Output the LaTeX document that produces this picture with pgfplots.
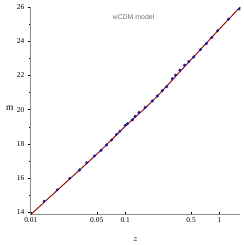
\documentclass[border=0pt]{standalone}
\usepackage{fontspec}
\setmainfont{Liberation Serif}
\newfontfamily\sansf{Liberation Sans}
\usepackage{pgfplots}
\pgfplotsset{compat=1.18}
\definecolor{axgray}{RGB}{140,140,140}
\definecolor{ptblue}{RGB}{25,25,150}
\definecolor{lnred}{RGB}{150,15,15}
\begin{document}
\begin{tikzpicture}
\begin{axis}[
  scale only axis,
  width=211pt, height=209pt,
  xmode=log,
  xmin=0.01, xmax=1.66,
  ymin=13.88, ymax=26,
  axis lines=left,
  axis line style={axgray, line width=1.3pt, -},
  xtick={0.01,0.05,0.1,0.5,1},
  xticklabels={0.01,0.05,0.1,0.5,1},
  minor xtick={},
  ytick={14,16,18,20,22,24,26},
  minor ytick={15,17,19,21,23,25},
  tick style={black, line width=0.5pt},
  major tick length=3pt,
  minor tick length=1.5pt,
  ytick align=outside,
  xtick align=inside,
  tick label style={font=\fontsize{7.5}{8}\selectfont},
  /pgf/number format/assume math mode=true,
  xlabel={$z$}, ylabel={m},
  xlabel style={font=\fontsize{9.5}{10}\selectfont, at={(ticklabel cs:0.5)}, anchor=north, yshift=-8pt},
  ylabel style={font=\fontsize{9.5}{10}\selectfont, rotate=-90, at={(rel axis cs:0,0.5)}, anchor=east, xshift=-14pt, yshift=2pt},
  clip=false,
]
\addplot[lnred, line width=1pt, smooth] coordinates {
(0.01,13.88) (0.02,15.40) (0.05,17.40) (0.1,19.03) (0.2,20.57) (0.5,22.93) (1,24.72) (1.66,26.0)
};
\addplot[only marks, mark=*, mark size=1.3pt, ptblue] coordinates {
(0.0138,14.66) (0.0191,15.32) (0.0259,15.99) (0.0328,16.48) (0.0392,16.90)
(0.0472,17.30) (0.0555,17.63) (0.0635,17.94) (0.0718,18.23) (0.0810,18.56)
(0.0879,18.74) (0.1000,19.08) (0.1057,19.18) (0.1194,19.41) (0.1274,19.61)
(0.1403,19.84) (0.1625,20.13) (0.1938,20.51) (0.2188,20.80) (0.2471,21.11)
(0.2750,21.34) (0.3150,21.81) (0.3418,22.02) (0.3796,22.31) (0.4249,22.60)
(0.4720,22.81) (0.5326,23.08) (0.6266,23.51) (0.7244,23.86) (0.8300,24.22)
(0.9532,24.61) (1.244,25.29) (1.61,25.88)
};
\node[font=\sansf\fontsize{7}{8}\selectfont, text=black!55] at (rel axis cs:0.49,0.95) {wCDM model};
\end{axis}
\path (current axis.south west) +(-31pt,-29pt) (current axis.north east) +(3pt,7pt);
\end{tikzpicture}
\end{document}
